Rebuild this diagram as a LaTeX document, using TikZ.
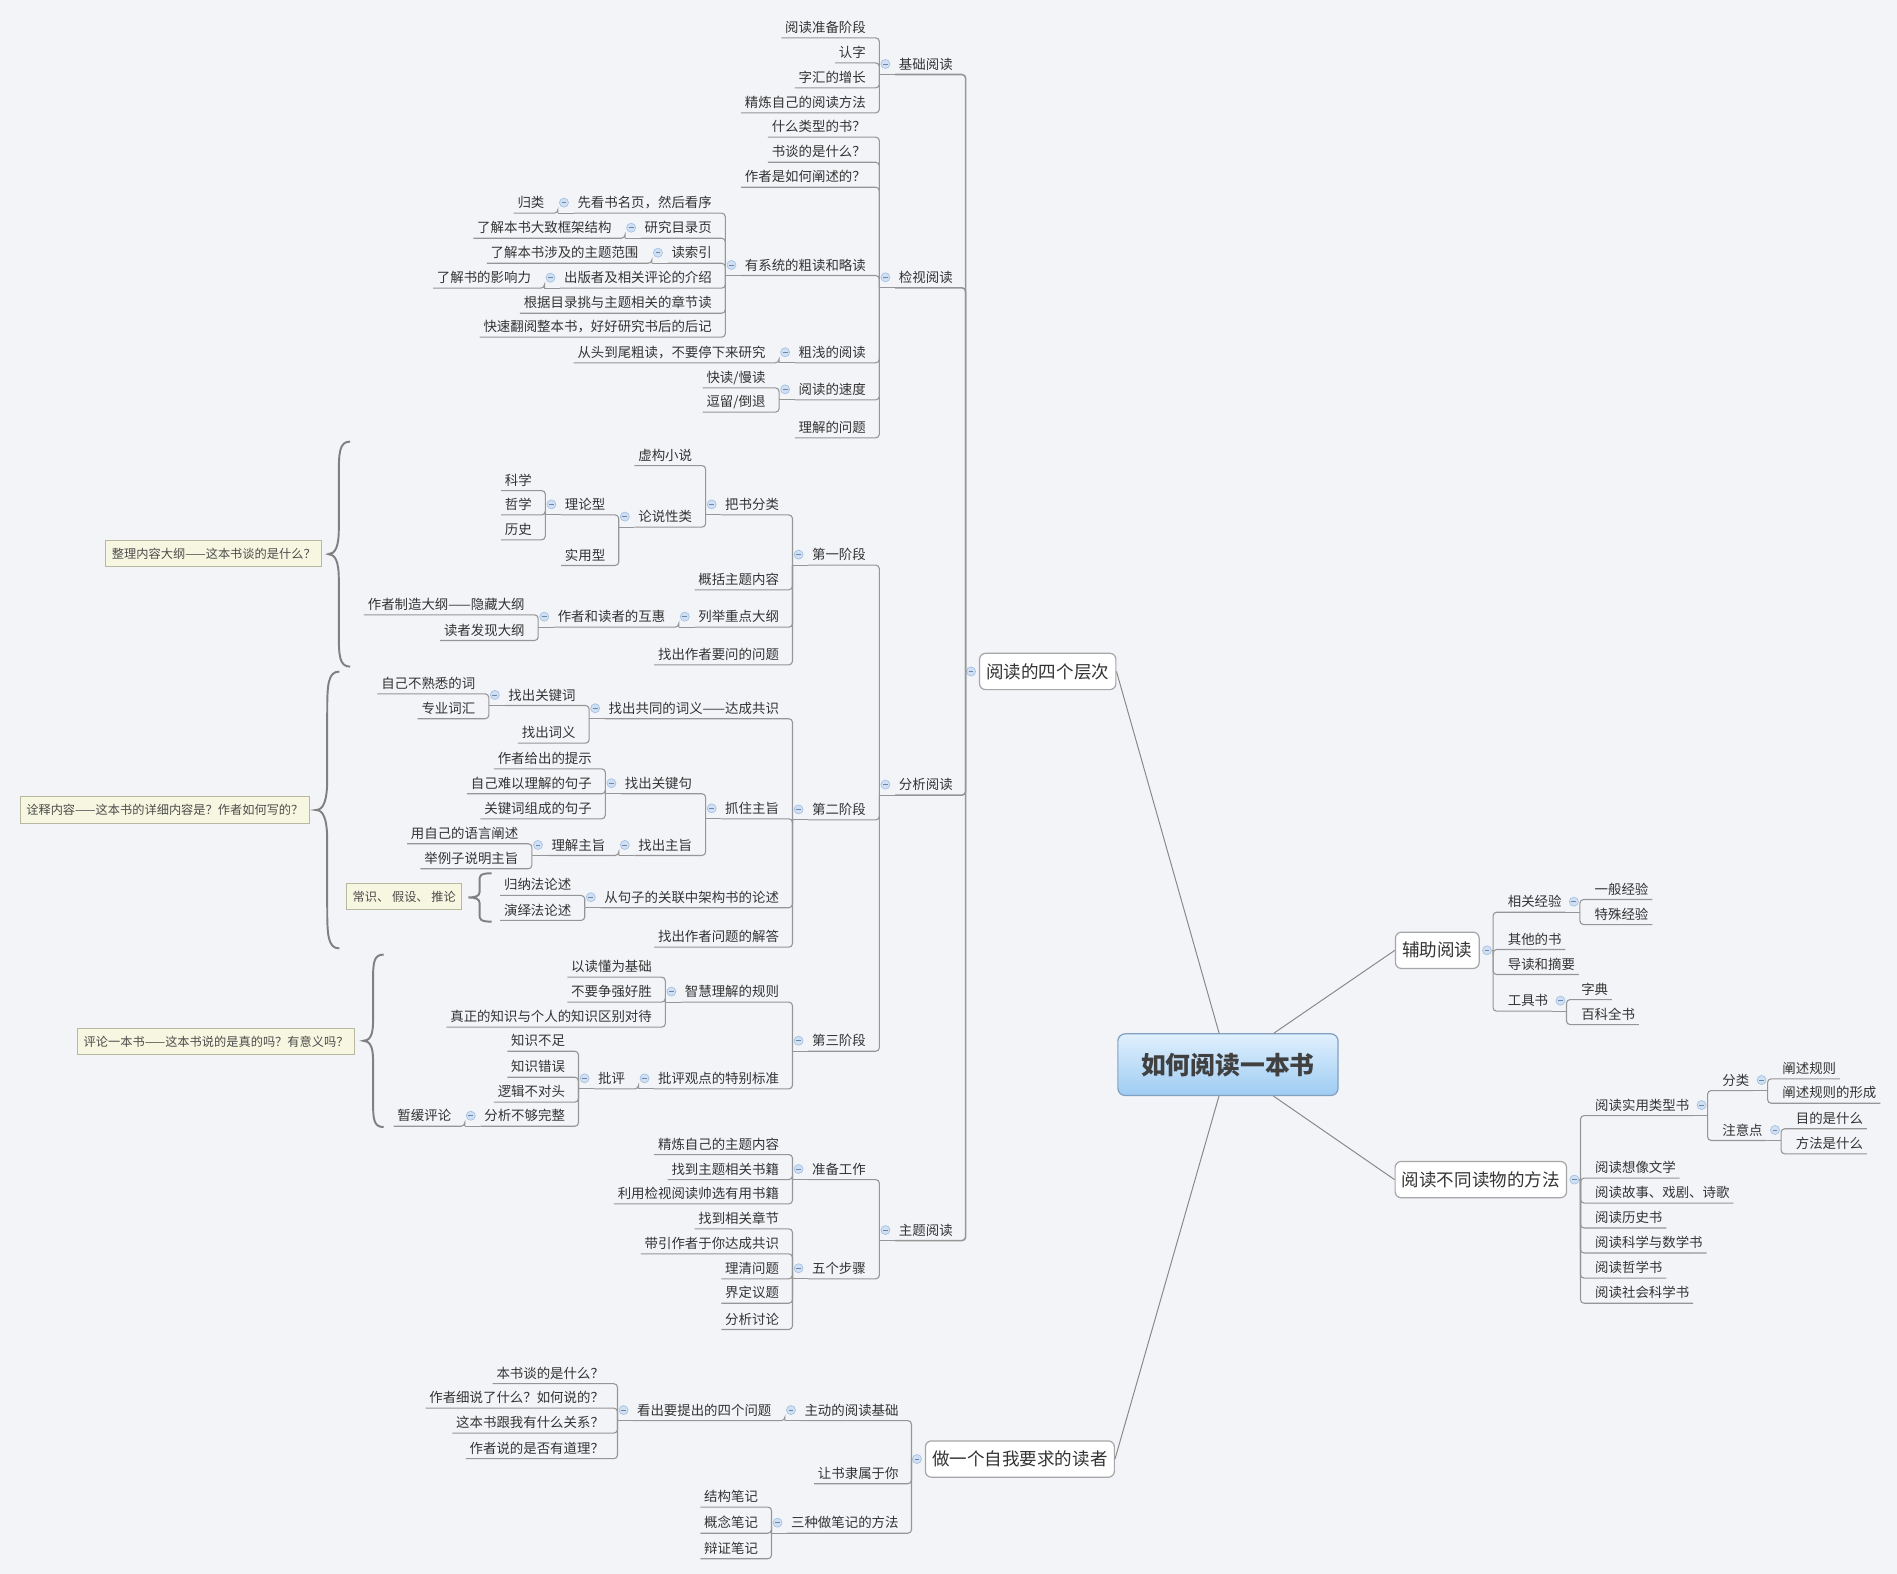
\documentclass[tikz,border=0pt]{standalone}
\usepackage{fontspec}
\newfontfamily\cjk{Noto Sans CJK SC}
\definecolor{bg}{RGB}{243,244,248}
\definecolor{linec}{RGB}{150,150,150}
\definecolor{txt}{RGB}{51,51,51}
\definecolor{foldfill}{RGB}{207,224,244}
\definecolor{foldline}{RGB}{160,190,225}
\definecolor{notefill}{RGB}{247,247,225}
\definecolor{noteline}{RGB}{185,185,160}
\definecolor{rootline}{RGB}{130,160,192}
\definecolor{roottop}{RGB}{224,240,253}
\definecolor{rootbot}{RGB}{158,204,243}

\begin{document}
\begin{tikzpicture}[x=1pt, y=-1pt,
		lt/.style={anchor=east, font=\cjk\fontsize{11.1pt}{13pt}\selectfont, text=txt, inner xsep=3pt, inner ysep=0pt, text height=12.7pt, text depth=4.3pt},
		rt/.style={lt, anchor=west},
		fold/.style={circle, fill=foldfill, draw=foldline, line width=0.5pt, minimum size=7.5pt, inner sep=0pt,
				path picture={\draw[foldline!70!black, line width=0.7pt] ([xshift=-2pt]path picture bounding box.center) -- ([xshift=2pt]path picture bounding box.center);}},
		link/.style={draw=linec, line width=0.9pt, rounded corners=3pt},
		trunk/.style={link, line width=1.3pt},
		spoke/.style={draw=linec!90!black, line width=0.8pt},
		topicbox/.style={draw=black!35, fill=white, line width=1pt, rounded corners=5pt, font=\cjk\fontsize{14.5pt}{16pt}\selectfont, text=txt, inner xsep=5.6pt, inner ysep=0pt, minimum height=30pt},
		rootbox/.style={draw=rootline, top color=roottop, bottom color=rootbot, line width=1pt, rounded corners=6pt, font=\cjk\bfseries\fontsize{20.5pt}{22pt}\selectfont, text=black!75, minimum width=182pt, minimum height=51pt},
		notebox/.style={anchor=east, draw=noteline, fill=notefill, line width=0.8pt, font=\cjk\fontsize{10.1pt}{12pt}\selectfont, text=black!70, inner xsep=5pt, inner ysep=0pt, minimum height=21.5pt},
		bracel/.style={draw=black!50, line width=1.6pt},
		curly/.pic={\draw[bracel] (1,-1) .. controls (0.5,-1) and (0.48,-0.9) .. (0.48,-0.7) -- (0.48,-0.22) .. controls (0.48,-0.06) and (0.3,0) .. (0,0) .. controls (0.3,0) and (0.48,0.06) .. (0.48,0.22) -- (0.48,0.7) .. controls (0.48,0.9) and (0.5,1) .. (1,1);}
	]
	\useasboundingbox (0,0) rectangle (1568,1301);
	\fill[bg] (0,0) rectangle (1568,1301);

	\node[rootbox] (root) at (1015,880) {如何阅读一本书};
	\node[topicbox] (t1) at (866,555) {阅读的四个层次};
	\node[topicbox] (t2) at (1188,785.5) {辅助阅读};
	\node[topicbox] (t3) at (1224,975) {阅读不同读物的方法};
	\node[topicbox] (t4) at (843,1206) {做一个自我要求的读者};
	\draw[spoke] (root) -- (t1.east);
	\draw[spoke] (root) -- (t2.west);
	\draw[spoke] (root) -- (t3.west);
	\draw[spoke] (root) -- (t4.east);

	\foreach \p in {t1, t4} {
			\coordinate (\p-b) at ([xshift=-11pt]\p.west);
			\coordinate (\p-k) at ([xshift=-18.5pt]\p.west);
			\node[fold] (\p-o) at ([xshift=-6.5pt]\p.west) {};
			\draw[link] (\p-b) -- (\p-o);
		}
	\foreach \p in {t2, t3} {
			\coordinate (\p-b) at ([xshift=11pt]\p.east);
			\coordinate (\p-k) at ([xshift=20pt]\p.east);
			\node[fold] (\p-o) at ([xshift=6pt]\p.east) {};
			\draw[link] (\p-b) -- (\p-o);
		}

	% level 2
	\foreach \n/\y/\t in {jc/52.9/基础阅读, jsh/229.2/检视阅读, fx/648.5/分析阅读, zt/1016.7/主题阅读} {
			\node[lt] (\n) at (t1-k |- 0,\y) {\t};
			\draw[trunk] (t1-b) |- (\n.south west);
		}
	\foreach \n/\y/\t in {zd/1165.5/主动的阅读基础, ls/1217.7/让书隶属于你, bj/1258.6/三种做笔记的方法} {
			\node[lt] (\n) at (t4-k |- 0,\y) {\t};
			\draw[link] (t4-b) |- (\n.south west);
		}
	\foreach \n/\y/\t in {xg/745.3/相关经验, qt/776.1/其他的书, dd/796.8/导读和摘要, gj/827.1/工具书} {
			\node[rt] (\n) at (t2-k |- 0,\y) {\t};
			\draw[link] (t2-b) |- (\n.south east);
		}
	\foreach \n/\y/\t in {sy/913.4/阅读实用类型书, xx/965.1/阅读想像文学, gs/985.7/阅读故事、戏剧、诗歌, lsh/1006.3/阅读历史书, kx/1027/阅读科学与数学书, zx/1047.7/阅读哲学书, sh/1068.5/阅读社会科学书} {
			\node[rt] (\n) at (t3-k |- 0,\y) {\t};
			\draw[link] (t3-b) |- (\n.south east);
		}

	\foreach \p in {jc, jsh, fx, zt, zd, bj} {
			\coordinate (\p-b) at ([xshift=-13pt]\p.south west);
			\coordinate (\p-k) at ([xshift=-21pt]\p.south west);
			\node[fold] (\p-o) at ([xshift=-8pt]\p.west) {};
			\draw[link] (\p.south west) -- (\p-b);
		}
	\foreach \p in {xg, gj, sy} {
			\coordinate (\p-b) at ([xshift=12pt]\p.south east);
			\coordinate (\p-k) at ([xshift=21pt]\p.south east);
			\node[fold] (\p-o) at ([xshift=7pt]\p.east) {};
			\draw[link] (\p.south east) -- (\p-b);
		}

	% level 3
	\foreach \n/\y/\t in {jc1/22.6/阅读准备阶段, jc2/43.3/认字, jc3/63.9/字汇的增长, jc4/84.6/精炼自己的阅读方法} {
			\node[lt] (\n) at (jc-k |- 0,\y) {\t};
			\draw[link] (jc-b) |- (\n.south west);
		}
	\foreach \n/\y/\t in {js1/104.7/什么类型的书？, js2/125.4/书谈的是什么？, js3/146.1/作者是如何阐述的？, xl/219/有系统的粗读和略读, cq/291.2/粗浅的阅读, sd/321.8/阅读的速度, js4/353.2/理解的问题} {
			\node[lt] (\n) at (jsh-k |- 0,\y) {\t};
			\draw[link] (jsh-b) |- (\n.south west);
		}
	\foreach \n/\y/\t in {s1/458.4/第一阶段, s2/669/第二阶段, s3/860.2/第三阶段} {
			\node[lt] (\n) at (fx-k |- 0,\y) {\t};
			\draw[link] (fx-b) |- (\n.south west);
		}
	\foreach \n/\y/\t in {zb/966.3/准备工作, wb/1048.3/五个步骤} {
			\node[lt] (\n) at (zt-k |- 0,\y) {\t};
			\draw[link] (zt-b) |- (\n.south west);
		}
	\foreach \n/\y/\t in {sw/1165.5/看出要提出的四个问题} {
			\node[lt] (\n) at (zd-k |- 0,\y) {\t};
			\draw[link] (zd-b) |- (\n.south west);
		}
	\foreach \n/\y/\t in {bj1/1237/结构笔记, bj2/1258.6/概念笔记, bj3/1279.7/辩证笔记} {
			\node[lt] (\n) at (bj-k |- 0,\y) {\t};
			\draw[link] (bj-b) |- (\n.south west);
		}
	\foreach \n/\y/\t in {xg1/734.8/一般经验, xg2/755.5/特殊经验} {
			\node[rt] (\n) at (xg-k |- 0,\y) {\t};
			\draw[link] (xg-b) |- (\n.south east);
		}
	\foreach \n/\y/\t in {gj1/817.5/字典, gj2/838.2/百科全书} {
			\node[rt] (\n) at (gj-k |- 0,\y) {\t};
			\draw[link] (gj-b) |- (\n.south east);
		}
	\foreach \n/\y/\t in {fen/892.7/分类, zy/934/注意点} {
			\node[rt] (\n) at (sy-k |- 0,\y) {\t};
			\draw[link] (sy-b) |- (\n.south east);
		}

	\foreach \p in {xl, cq, sd, s1, s2, s3, zb, wb, sw} {
			\coordinate (\p-b) at ([xshift=-13pt]\p.south west);
			\coordinate (\p-k) at ([xshift=-21pt]\p.south west);
			\node[fold] (\p-o) at ([xshift=-8pt]\p.west) {};
			\draw[link] (\p.south west) -- (\p-b);
		}
	\foreach \p in {fen, zy} {
			\coordinate (\p-b) at ([xshift=12pt]\p.south east);
			\coordinate (\p-k) at ([xshift=21pt]\p.south east);
			\node[fold] (\p-o) at ([xshift=7pt]\p.east) {};
			\draw[link] (\p.south east) -- (\p-b);
		}

	% level 4
	\foreach \n/\y/\t in {xl1/167.5/先看书名页，然后看序, xl2/188.2/研究目录页, xl3/208.9/读索引, xl4/229.5/出版者及相关评论的介绍, xl5/250.2/根据目录挑与主题相关的章节读, xl6/270/快速翻阅整本书，好好研究书后的后记} {
			\node[lt] (\n) at (xl-k |- 0,\y) {\t};
			\draw[link] (xl-b) |- (\n.south west);
		}
	\foreach \n/\y/\t in {cq1/291.2/从头到尾粗读，不要停下来研究} {
			\node[lt] (\n) at (cq-k |- 0,\y) {\t};
			\draw[link] (cq-b) |- (\n.south west);
		}
	\foreach \n/\y/\t in {sd1/311.9/{快读/慢读}, sd2/332/{逗留/倒退}} {
			\node[lt] (\n) at (sd-k |- 0,\y) {\t};
			\draw[link] (sd-b) |- (\n.south west);
		}
	\foreach \n/\y/\t in {fs/416.9/把书分类, s1b/478.8/概括主题内容, dg/509.7/列举重点大纲, s1d/540.8/找出作者要问的问题} {
			\node[lt] (\n) at (s1-k |- 0,\y) {\t};
			\draw[link] (s1-b) |- (\n.south west);
		}
	\foreach \n/\y/\t in {gy/585.4/找出共同的词义——达成共识, zz/668.1/抓住主旨, jg/741.6/从句子的关联中架构书的论述, s2d/774.2/找出作者问题的解答} {
			\node[lt] (\n) at (s2-k |- 0,\y) {\t};
			\draw[link] (s2-b) |- (\n.south west);
		}
	\foreach \n/\y/\t in {zh/819.6/智慧理解的规则, pb/891.3/批评观点的特别标准} {
			\node[lt] (\n) at (s3-k |- 0,\y) {\t};
			\draw[link] (s3-b) |- (\n.south west);
		}
	\foreach \n/\y/\t in {zb1/945.6/精炼自己的主题内容, zb2/966.3/找到主题相关书籍, zb3/986.4/利用检视阅读帅选有用书籍} {
			\node[lt] (\n) at (zb-k |- 0,\y) {\t};
			\draw[link] (zb-b) |- (\n.south west);
		}
	\foreach \n/\y/\t in {wb1/1007/找到相关章节, wb2/1027.7/带引作者于你达成共识, wb3/1048.3/理清问题, wb4/1068.5/界定议题, wb5/1090.2/分析讨论} {
			\node[lt] (\n) at (wb-k |- 0,\y) {\t};
			\draw[link] (wb-b) |- (\n.south west);
		}
	\foreach \n/\y/\t in {sw1/1135/本书谈的是什么？, sw2/1155.2/作者细说了什么？如何说的？, sw3/1175.8/这本书跟我有什么关系？, sw4/1197/作者说的是否有道理？} {
			\node[lt] (\n) at (sw-k |- 0,\y) {\t};
			\draw[link] (sw-b) |- (\n.south west);
		}
	\foreach \n/\y/\t in {fen1/883/阐述规则, fen2/903.2/阐述规则的形成} {
			\node[rt] (\n) at (fen-k |- 0,\y) {\t};
			\draw[link] (fen-b) |- (\n.south east);
		}
	\foreach \n/\y/\t in {zy1/924.3/目的是什么, zy2/945/方法是什么} {
			\node[rt] (\n) at (zy-k |- 0,\y) {\t};
			\draw[link] (zy-b) |- (\n.south east);
		}

	\foreach \p in {xl1, xl2, xl3, xl4, fs, dg, gy, zz, jg, zh, pb} {
			\coordinate (\p-b) at ([xshift=-13pt]\p.south west);
			\coordinate (\p-k) at ([xshift=-21pt]\p.south west);
			\node[fold] (\p-o) at ([xshift=-8pt]\p.west) {};
			\draw[link] (\p.south west) -- (\p-b);
		}

	% level 5
	\foreach \n/\y/\t in {gl/167.5/归类} {
			\node[lt] (\n) at (xl1-k |- 0,\y) {\t};
			\draw[link] (xl1-b) |- (\n.south west);
		}
	\foreach \n/\y/\t in {xl2a/188.2/了解本书大致框架结构} {
			\node[lt] (\n) at (xl2-k |- 0,\y) {\t};
			\draw[link] (xl2-b) |- (\n.south west);
		}
	\foreach \n/\y/\t in {xl3a/208.9/了解本书涉及的主题范围} {
			\node[lt] (\n) at (xl3-k |- 0,\y) {\t};
			\draw[link] (xl3-b) |- (\n.south west);
		}
	\foreach \n/\y/\t in {xl4a/229.5/了解书的影响力} {
			\node[lt] (\n) at (xl4-k |- 0,\y) {\t};
			\draw[link] (xl4-b) |- (\n.south west);
		}
	\foreach \n/\y/\t in {fs1/376.1/虚构小说, lsx/427/论说性类} {
			\node[lt] (\n) at (fs-k |- 0,\y) {\t};
			\draw[link] (fs-b) |- (\n.south west);
		}
	\foreach \n/\y/\t in {hh/509.7/作者和读者的互惠} {
			\node[lt] (\n) at (dg-k |- 0,\y) {\t};
			\draw[link] (dg-b) |- (\n.south west);
		}
	\foreach \n/\y/\t in {gjc/574.4/找出关键词, cy/605.6/找出词义} {
			\node[lt] (\n) at (gy-k |- 0,\y) {\t};
			\draw[link] (gy-b) |- (\n.south west);
		}
	\foreach \n/\y/\t in {gjj/647.4/找出关键句, zzz/698.4/找出主旨} {
			\node[lt] (\n) at (zz-k |- 0,\y) {\t};
			\draw[link] (zz-b) |- (\n.south west);
		}
	\foreach \n/\y/\t in {jg1/731.4/归纳法论述, jg2/752.1/演绎法论述} {
			\node[lt] (\n) at (jg-k |- 0,\y) {\t};
			\draw[link] (jg-b) |- (\n.south west);
		}
	\foreach \n/\y/\t in {zh1/799/以读懂为基础, zh2/819.6/不要争强好胜, zh3/840.3/真正的知识与个人的知识区别对待} {
			\node[lt] (\n) at (zh-k |- 0,\y) {\t};
			\draw[link] (zh-b) |- (\n.south west);
		}
	\foreach \n/\y/\t in {pp/891.3/批评} {
			\node[lt] (\n) at (pb-k |- 0,\y) {\t};
			\draw[link] (pb-b) |- (\n.south west);
		}

	\foreach \p in {lsx, hh, gjc, gjj, zzz, pp} {
			\coordinate (\p-b) at ([xshift=-13pt]\p.south west);
			\coordinate (\p-k) at ([xshift=-21pt]\p.south west);
			\node[fold] (\p-o) at ([xshift=-8pt]\p.west) {};
			\draw[link] (\p.south west) -- (\p-b);
		}

	% level 6
	\foreach \n/\y/\t in {llx/416.9/理论型, syx/458.7/实用型} {
			\node[lt] (\n) at (lsx-k |- 0,\y) {\t};
			\draw[link] (lsx-b) |- (\n.south west);
		}
	\foreach \n/\y/\t in {hh1/499.5/作者制造大纲——隐藏大纲, hh2/520.7/读者发现大纲} {
			\node[lt] (\n) at (hh-k |- 0,\y) {\t};
			\draw[link] (hh-b) |- (\n.south west);
		}
	\foreach \n/\y/\t in {gjc1/564.8/自己不熟悉的词, gjc2/585.4/专业词汇} {
			\node[lt] (\n) at (gjc-k |- 0,\y) {\t};
			\draw[link] (gjc-b) |- (\n.south west);
		}
	\foreach \n/\y/\t in {gjj1/626.8/作者给出的提示, gjj2/647.4/自己难以理解的句子, gjj3/668.1/关键词组成的句子} {
			\node[lt] (\n) at (gjj-k |- 0,\y) {\t};
			\draw[link] (gjj-b) |- (\n.south west);
		}
	\foreach \n/\y/\t in {lj/698.4/理解主旨} {
			\node[lt] (\n) at (zzz-k |- 0,\y) {\t};
			\draw[link] (zzz-b) |- (\n.south west);
		}
	\foreach \n/\y/\t in {pp1/860.2/知识不足, pp2/881.7/知识错误, pp3/902.3/逻辑不对头, pp4/922.2/分析不够完整} {
			\node[lt] (\n) at (pp-k |- 0,\y) {\t};
			\draw[link] (pp-b) |- (\n.south west);
		}

	\foreach \p in {llx, lj, pp4} {
			\coordinate (\p-b) at ([xshift=-13pt]\p.south west);
			\coordinate (\p-k) at ([xshift=-21pt]\p.south west);
			\node[fold] (\p-o) at ([xshift=-8pt]\p.west) {};
			\draw[link] (\p.south west) -- (\p-b);
		}

	% level 7
	\foreach \n/\y/\t in {llx1/396.8/科学, llx2/416.9/哲学, llx3/437.5/历史} {
			\node[lt] (\n) at (llx-k |- 0,\y) {\t};
			\draw[link] (llx-b) |- (\n.south west);
		}
	\foreach \n/\y/\t in {lj1/688.7/用自己的语言阐述, lj2/709.4/举例子说明主旨} {
			\node[lt] (\n) at (lj-k |- 0,\y) {\t};
			\draw[link] (lj-b) |- (\n.south west);
		}
	\foreach \n/\y/\t in {hp/922.2/暂缓评论} {
			\node[lt] (\n) at (pp4-k |- 0,\y) {\t};
			\draw[link] (pp4-b) |- (\n.south west);
		}

	% summaries
	\node[notebox] (n1) at (266.4,457.7) {整理内容大纲——这本书谈的是什么？};
	\node[notebox] (n2) at (256.2,669.5) {诠释内容——这本书的详细内容是？作者如何写的？};
	\node[notebox] (n3) at (293.5,861) {评论一本书——这本书说的是真的吗？有意义吗？};
	\node[notebox] (n4) at (382.2,741.4) {常识、 假设、 推论};
	\pic[xscale=18, yscale=93] at (271.4,458) {curly};
	\pic[xscale=19.3, yscale=114.4] at (261.2,669.5) {curly};
	\pic[xscale=16.8, yscale=71.3] at (300.3,860.3) {curly};
	\pic[xscale=19.3, yscale=20] at (387.1,741.8) {curly};
\end{tikzpicture}
\end{document}
